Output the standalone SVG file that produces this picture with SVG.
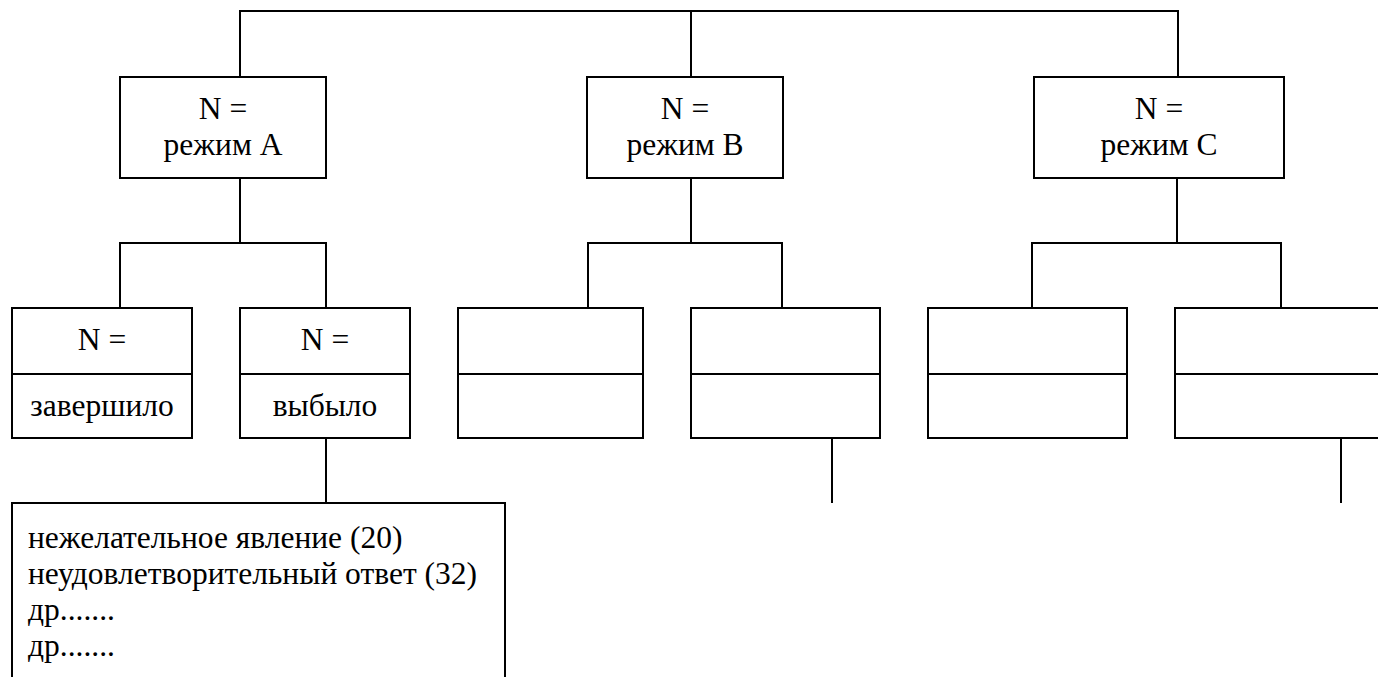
<svg xmlns="http://www.w3.org/2000/svg" width="1378" height="677" viewBox="0 0 1378 677">
<style>
.box{fill:#fff;stroke:#000;stroke-width:2}
.ln{stroke:#000;stroke-width:2;fill:none}
text{font-family:"Liberation Serif","Times New Roman",serif;font-size:31.5px;fill:#000}
.c{text-anchor:middle}
</style>
<rect width="1378" height="677" fill="#fff"/>
<g id="connectors">
<polyline class="ln" points="240,77 240,11 1178,11 1178,77"/>
<line class="ln" x1="691" y1="11" x2="691" y2="77"/>
<line class="ln" x1="240" y1="178" x2="240" y2="243"/>
<polyline class="ln" points="120,308 120,243 326,243 326,308"/>
<line class="ln" x1="691" y1="178" x2="691" y2="243"/>
<polyline class="ln" points="588,308 588,243 782,243 782,308"/>
<line class="ln" x1="1177" y1="178" x2="1177" y2="243"/>
<polyline class="ln" points="1032,308 1032,243 1281,243 1281,308"/>
<line class="ln" x1="326" y1="438" x2="326" y2="503"/>
<line class="ln" x1="832" y1="438" x2="832" y2="503"/>
<line class="ln" x1="1341" y1="438" x2="1341" y2="503"/>
</g>
<g id="modeA">
<rect class="box" x="120" y="77" width="206" height="101"/>
<text class="c" x="223" y="119">N =</text>
<text class="c" x="223" y="155">режим А</text>
</g>
<g id="modeB">
<rect class="box" x="587" y="77" width="196" height="101"/>
<text class="c" x="685" y="119">N =</text>
<text class="c" x="685" y="155">режим В</text>
</g>
<g id="modeC">
<rect class="box" x="1034" y="77" width="250" height="101"/>
<text class="c" x="1159" y="119">N =</text>
<text class="c" x="1159" y="155">режим С</text>
</g>
<g id="a-completed">
<rect class="box" x="12" y="308" width="180" height="130"/>
<line class="ln" x1="12" y1="374" x2="192" y2="374"/>
<text class="c" x="102" y="350">N =</text>
<text class="c" x="102" y="416">завершило</text>
</g>
<g id="a-dropped">
<rect class="box" x="240" y="308" width="170" height="130"/>
<line class="ln" x1="240" y1="374" x2="410" y2="374"/>
<text class="c" x="325" y="350">N =</text>
<text class="c" x="325" y="416">выбыло</text>
</g>
<g id="b-1">
<rect class="box" x="458" y="308" width="185" height="130"/>
<line class="ln" x1="458" y1="374" x2="643" y2="374"/>
</g>
<g id="b-2">
<rect class="box" x="691" y="308" width="189" height="130"/>
<line class="ln" x1="691" y1="374" x2="880" y2="374"/>
</g>
<g id="c-1">
<rect class="box" x="928" y="308" width="199" height="130"/>
<line class="ln" x1="928" y1="374" x2="1127" y2="374"/>
</g>
<g id="c-2">
<rect class="box" x="1175" y="308" width="220" height="130"/>
<line class="ln" x1="1175" y1="374" x2="1395" y2="374"/>
</g>
<g id="reasons">
<rect class="box" x="12" y="503" width="493" height="200"/>
<text x="28" y="548">нежелательное явление (20)</text>
<text x="28" y="584">неудовлетворительный ответ (32)</text>
<text x="28" y="620">др.......</text>
<text x="28" y="656">др.......</text>
</g>
</svg>
